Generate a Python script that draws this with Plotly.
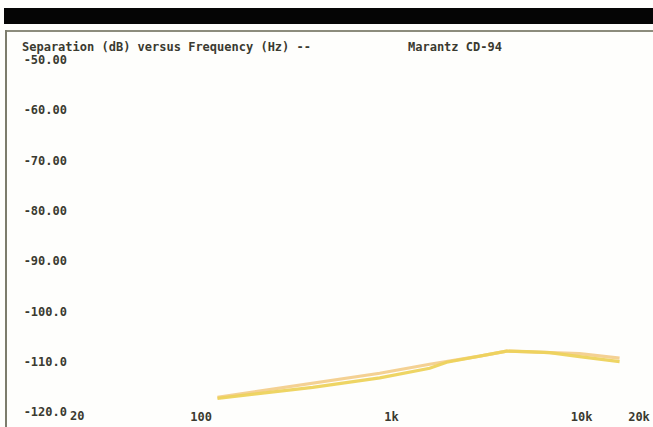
import math
import plotly.graph_objects as go

# Data (frequency in Hz, separation in dB)
freq_a = [122, 386, 869, 1589, 1953, 2908, 4030, 5133, 6780, 9742, 15810]
sep_a = [-117.1, -114.2, -112.3, -110.5, -110.0, -108.9, -107.9, -108.0, -108.2, -108.4, -109.3]
freq_b = [122, 386, 869, 1589, 1953, 2908, 4030, 5133, 6780, 9742, 15810]
sep_b = [-117.3, -115.1, -113.2, -111.3, -110.1, -108.9, -107.9, -108.0, -108.2, -109.0, -110.0]

y_ticks = [-50, -60, -70, -80, -90, -100, -110, -120]
y_labels = ["-50.00", "-60.00", "-70.00", "-80.00", "-90.00", "-100.0", "-110.0", "-120.0"]
x_ticks = [20, 100, 1000, 10000, 20000]
x_labels = ["20", "100", "1k", "10k", "20k"]

title_left = "Separation (dB) versus Frequency (Hz) --"
title_right = "Marantz CD-94"

FONT = "DejaVu Sans Mono"
FS = 12
TXT = "#3a3a30"
W, H = 653, 427
L, R, T, B = 68, 639, 60, 426       # plot area in page pixels
Y_TOP, Y_BOT = -50, -50 - 70 * (B - T) / (412 - 60)   # -120 lands at pixel 412


def px(x):
    return (x - L) / (R - L)


def py(y):
    return (B - y) / (B - T)


fig = go.Figure()
fig.add_trace(go.Scatter(x=freq_a, y=sep_a, mode="lines",
                         line=dict(color="#f4cf8e", width=3.2), opacity=0.95,
                         showlegend=False, hoverinfo="skip"))
fig.add_trace(go.Scatter(x=freq_b, y=sep_b, mode="lines",
                         line=dict(color="#eed35c", width=3.2), opacity=0.95,
                         showlegend=False, hoverinfo="skip"))

shapes = [
    # black band at top
    dict(type="rect", xref="paper", yref="paper", x0=px(4), x1=px(660), y0=py(24), y1=py(8),
         fillcolor="#050505", line=dict(width=0), layer="above"),
    # grey frame: top and left
    dict(type="line", xref="paper", yref="paper", x0=px(5), x1=px(660), y0=py(31), y1=py(31),
         line=dict(color="#8c8c7c", width=2), layer="above"),
    dict(type="line", xref="paper", yref="paper", x0=px(6), x1=px(6), y0=py(30), y1=py(440),
         line=dict(color="#7c7c6c", width=2), layer="above"),
]

tfont = dict(family=FONT, size=FS, color=TXT, weight="bold")
annotations = [
    dict(text=title_left, xref="paper", yref="paper", x=px(20), y=py(47), xanchor="left",
         yanchor="middle", showarrow=False, font=tfont),
    dict(text=title_right, xref="paper", yref="paper", x=px(406), y=py(47), xanchor="left",
         yanchor="middle", showarrow=False, font=tfont),
    # the first frequency label sits just right of its tick in the original
    dict(text=x_labels[0], xref="x", yref="paper", x=math.log10(x_ticks[0]), y=py(416),
         xanchor="left", yanchor="middle", showarrow=False, font=tfont),
]

fig.update_layout(
    width=W, height=H,
    margin=dict(l=L, r=W - R, t=T, b=H - B, pad=0, autoexpand=False),
    paper_bgcolor="#fefefc", plot_bgcolor="#fefefc",
    shapes=shapes, annotations=annotations,
    font=tfont,
)
fig.update_xaxes(type="log", range=[math.log10(20), math.log10(20000)], tickvals=x_ticks,
                 ticktext=[""] + x_labels[1:],
                 showgrid=False, zeroline=False, showline=False, ticks="", automargin=False,
                 ticklabelposition="inside", ticklabeloverflow="allow", tickfont=tfont)
fig.update_yaxes(range=[Y_BOT, Y_TOP], tickvals=y_ticks, ticktext=y_labels,
                 showgrid=False, zeroline=False, showline=False, ticks="", automargin=False,
                 ticklabeloverflow="allow", tickfont=tfont)

fig.write_html("out.html", config={"displayModeBar": False},
               post_script="document.body.style.margin='0';document.body.style.padding='0';")
